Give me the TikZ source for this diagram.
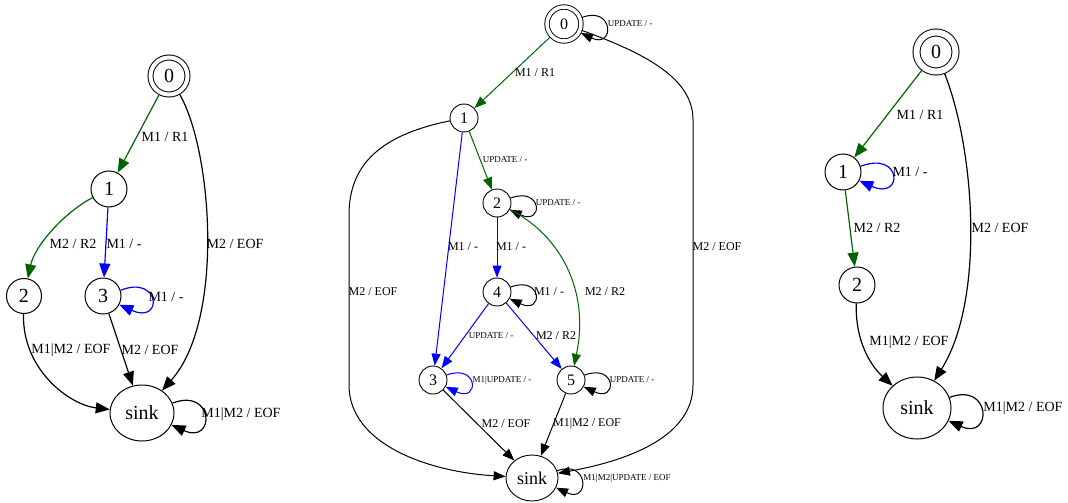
\documentclass[tikz,border=0pt]{standalone}
\usepackage{fontspec}
\setmainfont{Liberation Serif}
\usetikzlibrary{arrows.meta,shapes.geometric}
\definecolor{dg}{RGB}{0,100,0}
\definecolor{bl}{RGB}{0,0,255}
\tikzset{
  st/.style={draw, circle, line width=1pt, inner sep=0pt, font=\fontsize{20}{20}\selectfont},
  sk/.style={draw, ellipse, line width=1pt, inner sep=0pt, font=\fontsize{20}{20}\selectfont},
  mst/.style={draw, circle, line width=0.9pt, inner sep=0pt, minimum size=28pt, font=\fontsize{16}{16}\selectfont},
  ar/.style={line width=1.2pt, -{Triangle[length=14pt,width=11pt]}},
  mar/.style={line width=1pt, -{Triangle[length=12pt,width=9pt]}},
  lb/.style={font=\fontsize{14}{14}\selectfont, inner sep=0pt},
  mlb/.style={font=\fontsize{12}{12}\selectfont, inner sep=0pt},
  slb/.style={font=\fontsize{9}{9}\selectfont, inner sep=0pt}
}
\begin{document}
\begin{tikzpicture}[x=1pt,y=-1pt]
\useasboundingbox (0,0) rectangle (1068,503);
% ---------------- left graph
\node[st, double, double distance=4pt, minimum size=37pt, outer sep=2.5pt] (l0) at (169,76) {0};
\node[st, minimum size=36pt] (l1) at (109,189) {1};
\node[st, minimum size=35pt] (l2) at (24,296) {2};
\node[st, minimum size=36pt] (l3) at (103,296) {3};
\node[sk, minimum width=64pt, minimum height=56pt] (lsink) at (142,413) {sink};
\draw[ar, draw=dg] (l0) -- (l1);
\draw[ar] (l0) .. controls (212,150) and (225,320) .. (lsink);
\draw[ar, draw=dg] (l1) .. controls (65,212) and (35,245) .. (l2);
\draw[ar, draw=bl] (l1) -- (l3);
\draw[ar, draw=bl] (l3.18) .. controls +(40,-16) and +(44,20) .. (l3.-28);
\draw[ar] (l2) .. controls (22,370) and (70,405) .. (lsink);
\draw[ar] (l3) -- (lsink);
\draw[ar] (lsink.18) .. controls +(42,-16) and +(44,20) .. (lsink.-22);
\node[lb] (t1) at (165,137) {M1 / R1};
\node[lb] (t2) at (235,244) {M2 / EOF};
\node[lb] (t3) at (73,244) {M2 / R2};
\node[lb] (t4) at (124,244) {M1 / -};
\node[lb] (t5) at (166,297) {M1 / -};
\node[lb] (t6) at (71,350) {M1|M2 / EOF};
\node[lb] (t7) at (150,350) {M2 / EOF};
\node[lb] (t8) at (241,414) {M1|M2 / EOF};
% ---------------- middle graph
\node[mst, double, double distance=3.5pt, minimum size=34pt, outer sep=2.2pt] (m0) at (564,24) {0};
\node[mst] (m1) at (464,118) {1};
\node[mst] (m2) at (497,203) {2};
\node[mst] (m4) at (497,292) {4};
\node[mst] (m3) at (433,380) {3};
\node[mst] (m5) at (571,380) {5};
\node[draw, ellipse, line width=0.9pt, inner sep=0pt, minimum width=52pt, minimum height=46pt, font=\fontsize{18}{18}\selectfont] (msink) at (532,478) {sink};
\draw[mar, draw=dg] (m0) -- (m1);
\draw[mar] (m0.20) .. controls +(32,-12) and +(34,16) .. (m0.-28);
\draw[mar, draw=dg] (m1) -- (m2);
\draw[mar] (m2.20) .. controls +(32,-12) and +(34,16) .. (m2.-28);
\draw[mar, draw=bl] (m1) -- (m3);
\draw[mar, draw=bl] (m2) -- (m4);
\draw[mar, draw=dg] (m2) .. controls (560,235) and (590,290) .. (m5);
\draw[mar] (m4.20) .. controls +(32,-12) and +(34,16) .. (m4.-28);
\draw[mar, draw=bl] (m4) -- (m3);
\draw[mar, draw=bl] (m4) -- (m5);
\draw[mar, draw=bl] (m3.20) .. controls +(32,-12) and +(34,16) .. (m3.-28);
\draw[mar] (m5.20) .. controls +(32,-12) and +(34,16) .. (m5.-28);
\draw[mar] (m3) -- (msink);
\draw[mar] (m5) -- (msink);
\draw[mar] (msink.16) .. controls +(32,-12) and +(34,16) .. (msink.-22);
\draw[mar] (m1) .. controls (380,135) and (349,165) .. (349,215) -- (349,385) .. controls (349,445) and (430,472) .. (msink);
\draw[mar] (m0) .. controls (650,55) and (693,80) .. (693,120) -- (693,385) .. controls (693,440) and (620,462) .. (msink);
\node[mlb] (u1) at (535,73) {M1 / R1};
\node[slb] (u2) at (630,24) {UPDATE / -};
\node[slb] (u3) at (505,160) {UPDATE / -};
\node[slb] (u4) at (558,203) {UPDATE / -};
\node[mlb] (u5) at (463,247) {M1 / -};
\node[mlb] (u6) at (511,247) {M1 / -};
\node[mlb] (u7) at (717,247) {M2 / EOF};
\node[mlb] (u8) at (373,292) {M2 / EOF};
\node[mlb] (u9) at (549,292) {M1 / -};
\node[mlb] (u10) at (605,292) {M2 / R2};
\node[slb] (u11) at (491,336) {UPDATE / -};
\node[mlb] (u12) at (556,336) {M2 / R2};
\node[slb] (u13) at (502,380) {M1|UPDATE / -};
\node[slb] (u14) at (632,380) {UPDATE / -};
\node[mlb] (u15) at (506,424) {M2 / EOF};
\node[mlb] (u16) at (587,424) {M1|M2 / EOF};
\node[slb] (u17) at (627,478) {M1|M2|UPDATE / EOF};
% ---------------- right graph
\node[st, double, double distance=6pt, minimum size=39pt, outer sep=3.5pt] (r0) at (936,52) {0};
\node[st, minimum size=36pt] (r1) at (843,172) {1};
\node[st, minimum size=36pt] (r2) at (857,285) {2};
\node[sk, minimum width=68pt, minimum height=62pt] (rsink) at (917,408) {sink};
\draw[ar, draw=dg] (r0) -- (r1);
\draw[ar, draw=bl] (r1.18) .. controls +(42,-16) and +(44,20) .. (r1.-28);
\draw[ar, draw=dg] (r1) -- (r2);
\draw[ar] (r0) .. controls (975,150) and (985,300) .. (rsink);
\draw[ar] (r2) .. controls (855,340) and (870,365) .. (rsink);
\draw[ar] (rsink.18) .. controls +(42,-16) and +(44,20) .. (rsink.-22);
\node[lb] (v1) at (920,115) {M1 / R1};
\node[lb] (v2) at (910,172) {M1 / -};
\node[lb] (v3) at (877,228) {M2 / R2};
\node[lb] (v4) at (1000,228) {M2 / EOF};
\node[lb] (v5) at (909,342) {M1|M2 / EOF};
\node[lb] (v6) at (1023,408) {M1|M2 / EOF};
\end{tikzpicture}
\end{document}
